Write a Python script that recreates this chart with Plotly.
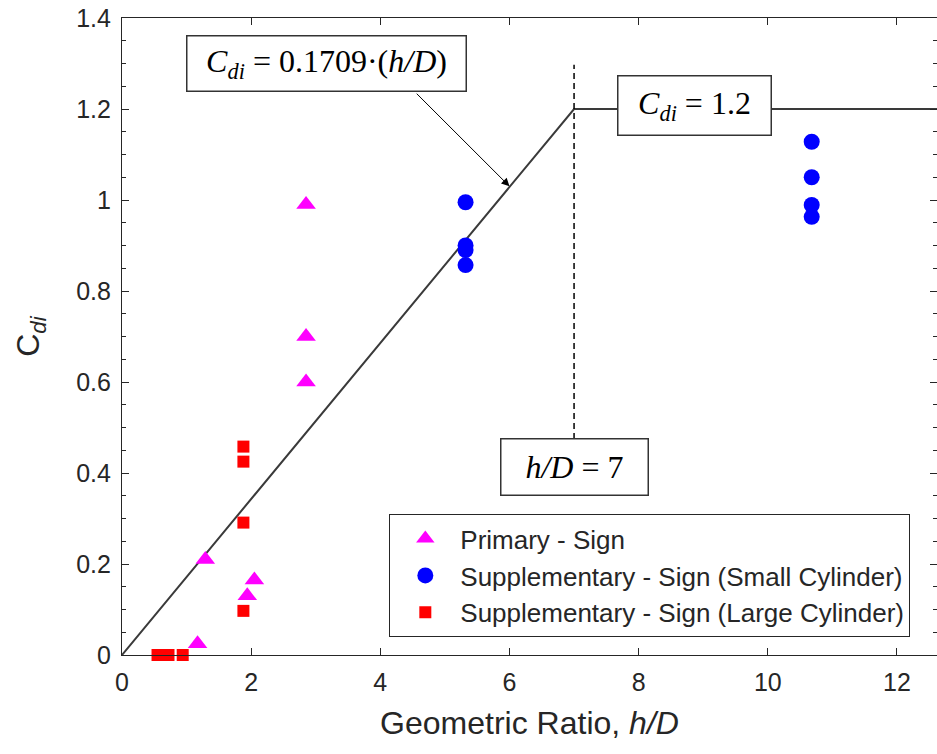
import plotly.graph_objects as go

# ---- data ----
primary_x = [2.85, 2.85, 2.85, 1.29, 1.17, 1.94, 2.05]
primary_y = [0.99, 0.70, 0.60, 0.21, 0.025, 0.13, 0.165]

small_x = [5.32, 5.32, 5.32, 5.32, 10.68, 10.68, 10.68, 10.68]
small_y = [0.995, 0.90, 0.89, 0.857, 1.128, 1.05, 0.989, 0.963]

large_x = [1.88, 1.88, 1.88, 1.88, 0.55, 0.72, 0.94]
large_y = [0.458, 0.425, 0.291, 0.097, 0.0, 0.0, 0.0]

model_x = [0, 7, 13]
model_y = [0, 1.2, 1.2]

limit_x = [7, 7]
limit_y = [0.475, 1.297]

x_ticks = [0, 2, 4, 6, 8, 10, 12]
y_ticks = [0, 0.2, 0.4, 0.6, 0.8, 1.0, 1.2, 1.4]
y_tick_text = ["0", "0.2", "0.4", "0.6", "0.8", "1", "1.2", "1.4"]

AX = "#262626"
SANS = "Liberation Sans, Arial, sans-serif"
SERIF = "Liberation Serif, Times New Roman, serif"

fig = go.Figure()

fig.add_trace(go.Scatter(x=model_x, y=model_y, mode="lines",
                         line=dict(color="#3a3a3a", width=2),
                         showlegend=False, hoverinfo="skip"))
fig.add_trace(go.Scatter(x=limit_x, y=limit_y, mode="lines",
                         line=dict(color="black", width=1.5, dash="6px,4px"),
                         showlegend=False, hoverinfo="skip"))

fig.add_trace(go.Scatter(x=primary_x, y=primary_y, mode="markers",
                         name="Primary - Sign", legendgroup="a",
                         marker=dict(symbol="triangle-up", size=17, color="#FF00FF"),
                         cliponaxis=False))
fig.add_trace(go.Scatter(x=small_x, y=small_y, mode="markers",
                         name="Supplementary - Sign (Small Cylinder)", legendgroup="b",
                         marker=dict(symbol="circle", size=16, color="#0000FF"),
                         cliponaxis=False))
fig.add_trace(go.Scatter(x=large_x, y=large_y, mode="markers",
                         name="Supplementary - Sign (Large Cylinder)", legendgroup="c",
                         marker=dict(symbol="square", size=12, color="#FF0000"),
                         cliponaxis=False))

# annotations
fig.add_annotation(x=3.17, y=1.299, xref="x", yref="y", showarrow=False,
                   text="<i>C<sub>di</sub></i> = 0.1709·(<i>h/D</i>)",
                   font=dict(family=SERIF, size=32, color="black"),
                   bgcolor="white", bordercolor="#333", borderwidth=1.5,
                   width=276, height=52, borderpad=1)
fig.add_annotation(x=6.0, y=1.03, xref="x", yref="y",
                   ax=4.54, ay=1.237, axref="x", ayref="y",
                   text="", showarrow=True, arrowhead=2, arrowsize=1.6,
                   arrowwidth=1, arrowcolor="black")
fig.add_annotation(x=8.87, y=1.207, xref="x", yref="y", showarrow=False,
                   text="<i>C<sub>di</sub></i> = 1.2",
                   font=dict(family=SERIF, size=32, color="black"),
                   bgcolor="white", bordercolor="#333", borderwidth=1.5,
                   width=150, height=56, borderpad=1)
fig.add_annotation(x=7.0, y=0.413, xref="x", yref="y", showarrow=False,
                   text="<i>h/D</i> = 7",
                   font=dict(family=SERIF, size=32, color="black"),
                   bgcolor="white", bordercolor="#333", borderwidth=1.5,
                   width=144, height=53, borderpad=1)

fig.update_layout(
    width=937, height=754,
    margin=dict(l=122, r=0, t=18, b=99),
    paper_bgcolor="white", plot_bgcolor="white",
    font=dict(family=SANS, size=25, color=AX),
    legend=dict(x=0.328, y=0.221, xanchor="left", yanchor="top",
                bgcolor="white", bordercolor=AX, borderwidth=1,
                font=dict(family=SANS, size=26, color=AX),
                traceorder="grouped", tracegroupgap=0, itemwidth=60),
    xaxis=dict(range=[0, 12.62], tickvals=x_ticks, ticks="inside", ticklen=7,
               tickcolor=AX, showline=True, linecolor=AX, linewidth=1.2, mirror="ticks",
               showgrid=False, zeroline=False, ticklabelstandoff=5,
               tickfont=dict(family=SANS, size=25, color=AX),
               title=dict(text="Geometric Ratio, <i>h/D</i>",
                          font=dict(family=SANS, size=32, color=AX), standoff=16)),
    yaxis=dict(range=[0, 1.4], tickvals=y_ticks, ticktext=y_tick_text,
               ticks="inside", ticklen=7,
               tickcolor=AX, showline=True, linecolor=AX, linewidth=1.2, mirror="ticks",
               showgrid=False, zeroline=False, ticklabelstandoff=5,
               minor=dict(dtick=0.05, ticks="inside", ticklen=4, tickcolor=AX),
               tickfont=dict(family=SANS, size=25, color=AX),
               title=dict(text="C<sub><i>di</i></sub>",
                          font=dict(family=SANS, size=32, color=AX), standoff=26)),
)

fig.write_html("out.html")
